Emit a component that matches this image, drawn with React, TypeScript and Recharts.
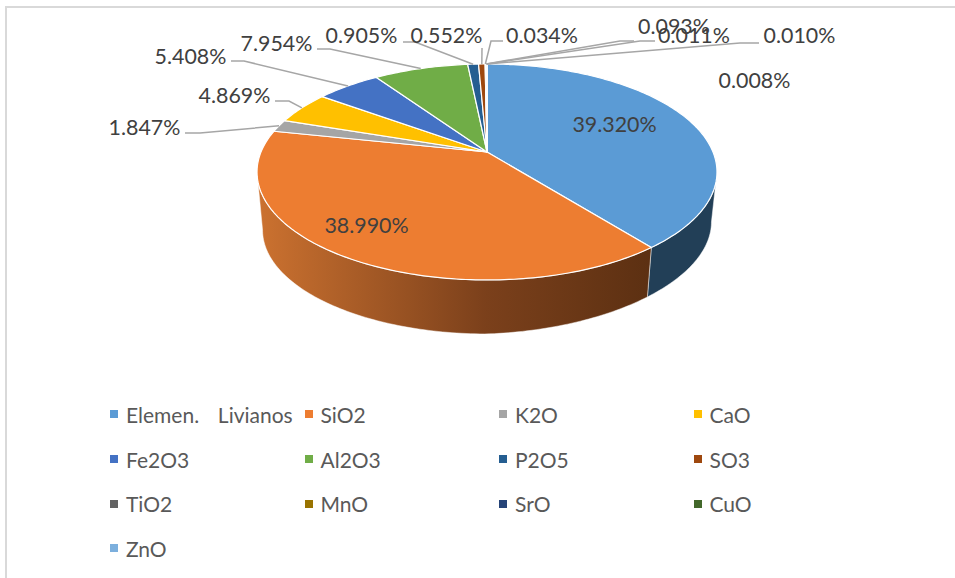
import React from "react";
import { PieChart, Pie, Legend } from "recharts";

const names = ["Elemen.  Livianos", "SiO2", "K2O", "CaO", "Fe2O3", "Al2O3", "P2O5", "SO3", "TiO2", "MnO", "SrO", "CuO", "ZnO"];
const shares = [39.32, 38.99, 1.847, 4.869, 5.408, 7.954, 0.905, 0.552, 0.034, 0.093, 0.011, 0.01, 0.008];
const colors = ["#5b9bd5", "#ed7d31", "#a5a5a5", "#ffc000", "#4472c4", "#70ad47", "#255e91", "#9e480e", "#636363", "#997300", "#264478", "#43682b", "#7cafdd"];
const sideColors = ["#223f57", "url(#orangeSide)", "#555", "#806000", "#223962", "#385723", "#132f49", "#4f2407", "#323232", "#4d3a00", "#13223c", "#223416", "#3e586f"];

const data = names.map((name, i) => ({ name, value: shares[i], fill: colors[i] }));

// label text centre and leader-line bends, in chart pixels
const labelCentres: [number, number][] = [
  [614.5, 124], [366.5, 225], [144.5, 127], [234.5, 95], [190.5, 56], [276.5, 43], [361.5, 35], [446.5, 35], [542, 35], [674, 26], [694, 35], [799.5, 35], [754.5, 80],
];
const leaders: ([number, number][] | null)[] = [
  null, null,
  [[185, 133], [200, 133]],
  [[275, 101], [289, 101]],
  [[231, 61], [244, 61]],
  [[317, 49], [330, 49]],
  [[403, 42], [415, 42]],
  [[482, 48]],
  [[503, 41], [491, 41]],
  [[634, 41], [620, 41]],
  [[655, 41], [640, 41]],
  [[759, 43], [740, 43]],
  null,
];

const K = 0.185;
const XS = 226 / 230;
const YS = 104.3 / 230;
const BASE_XS = 0.976;
const BASE_YS = 0.963;
const BASE_DY = 58.7;
const BASE_SHEAR = -0.035;
const WALL_RIGHT = -10.7;
const WALL_LEFT = -169.3;

function topPoint(cx: number, cy: number, r: number, deg: number): [number, number] {
  const a = (deg * Math.PI) / 180;
  const u = Math.cos(a);
  const v = -Math.sin(a);
  const d = 1 - K * v;
  return [cx + (r * XS * u) / d, cy + (r * YS * v) / d];
}
function basePoint(cx: number, cy: number, r: number, deg: number): [number, number] {
  const [x, y] = topPoint(cx, cy, r, deg);
  const dx = x - cx;
  return [cx + BASE_XS * dx, cy + BASE_YS * (y - cy) + BASE_DY + BASE_SHEAR * Math.max(dx, 0)];
}
function arc(from: number, to: number, f: (deg: number) => [number, number]) {
  const n = Math.max(1, Math.ceil(Math.abs(to - from)));
  const pts: [number, number][] = [];
  for (let i = 0; i <= n; i++) pts.push(f(from + ((to - from) * i) / n));
  return pts;
}
const toPath = (pts: [number, number][]) =>
  pts.map((p, i) => `${i ? "L" : "M"}${p[0].toFixed(2)} ${p[1].toFixed(2)}`).join(" ");

function Slice3D(props: any) {
  const { cx, cy, outerRadius: r, startAngle, endAngle, fill, index } = props;
  const idx = index ?? names.indexOf(props.name);
  // the wall only shows along the front of the rim, between the two tangent angles
  const wallFrom = Math.min(startAngle, WALL_RIGHT);
  const wallTo = Math.max(endAngle, WALL_LEFT);
  const hasWall = wallFrom > wallTo;
  const rim = arc(startAngle, endAngle, (d) => topPoint(cx, cy, r, d));
  return (
    <g>
      {hasWall && (
        <path
          d={
            toPath([
              ...arc(wallFrom, wallTo, (d) => topPoint(cx, cy, r, d)),
              ...arc(wallTo, wallFrom, (d) => basePoint(cx, cy, r, d)),
            ]) + " Z"
          }
          fill={sideColors[idx]}
          stroke="#fff"
          strokeOpacity={0.6}
          strokeWidth={0.8}
        />
      )}
      <path d={`${toPath([[cx, cy], ...rim])} Z`} fill={fill} stroke="#fff" strokeWidth={1.2} strokeLinejoin="round" />
    </g>
  );
}

function SliceLabel(props: any) {
  const { index, cx, cy, outerRadius, midAngle, value } = props;
  const [lx, ly] = labelCentres[index];
  const bends = leaders[index];
  const anchor = topPoint(cx, cy, outerRadius, midAngle);
  return (
    <g>
      {bends && (
        <polyline
          points={[...bends, anchor].map((p) => p.join(",")).join(" ")}
          fill="none"
          stroke="#a6a6a6"
          strokeWidth={1.5}
        />
      )}
      <text x={lx} y={ly} textAnchor="middle" dominantBaseline="central" fontFamily="Lato, Carlito, sans-serif" fontSize={21.4} fill="#404040">
        {value.toFixed(3)}%
      </text>
    </g>
  );
}

function LegendGrid({ payload }: any) {
  return (
    <div style={{ display: "grid", gridTemplateColumns: "repeat(4, 194.5px)", gridAutoRows: "44.7px", fontFamily: "Lato, Carlito, sans-serif", fontSize: 21, wordSpacing: 4, color: "#595959" }}>
      {(payload ?? []).map((e: any) => (
        <div key={e.value} style={{ display: "flex", alignItems: "center", whiteSpace: "pre" }}>
          <span style={{ width: 8, height: 8, background: e.color, marginRight: 8, flex: "none" }} />
          {e.value}
        </div>
      ))}
    </div>
  );
}

export default function App() {
  return (
    <div style={{ position: "absolute", left: 0, top: 0, width: 955, height: 578, overflow: "hidden", background: "#fff" }}>
      <div style={{ position: "absolute", left: 5, top: 6, right: 0, bottom: 0, borderLeft: "2px solid #d9d9d9", borderTop: "2px solid #d9d9d9" }} />
      <PieChart width={955} height={578} margin={{ top: 0, right: 0, bottom: 0, left: 0 }} style={{ position: "absolute", left: 0, top: 0 }}>
        <defs>
          <linearGradient id="orangeSide" gradientUnits="userSpaceOnUse" x1={257} y1={0} x2={652} y2={0}>
            <stop offset="0" stopColor="#cc7230" />
            <stop offset="0.58" stopColor="#7b401b" />
            <stop offset="1" stopColor="#5c3012" />
          </linearGradient>
        </defs>
        <Pie
          data={data}
          dataKey="value"
          nameKey="name"
          cx={487}
          cy={152}
          innerRadius={0}
          outerRadius={230}
          startAngle={90}
          endAngle={-270}
          paddingAngle={0}
          stroke="none"
          isAnimationActive={false}
          shape={Slice3D}
          inactiveShape={Slice3D}
          activeShape={Slice3D}
          label={SliceLabel}
          labelLine={false}
        />
        <Legend
          verticalAlign="bottom"
          content={LegendGrid}
          itemSorter={null}
          wrapperStyle={{ position: "absolute", left: 110, top: 392, width: 800, bottom: "auto" }}
        />
      </PieChart>
    </div>
  );
}
